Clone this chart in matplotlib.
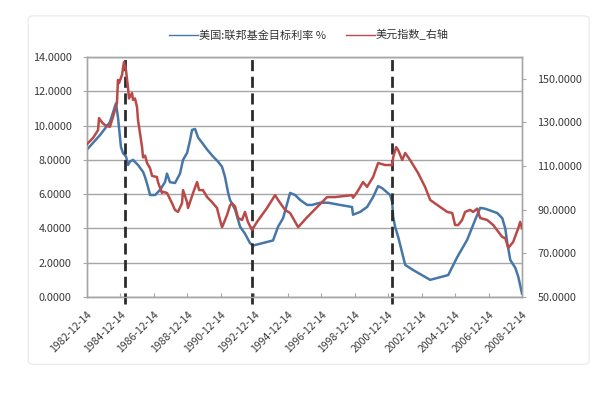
import matplotlib
matplotlib.use("Agg")
import matplotlib.pyplot as plt
from matplotlib.lines import Line2D
from matplotlib.patches import FancyBboxPatch

plt.rcParams["font.family"] = ["Noto Sans CJK SC", "DejaVu Sans"]
plt.rcParams["axes.unicode_minus"] = False

# ── 数据 (十进制年份, 读自原图) ───────────────────────
fed_years = [1982.95, 1983.73, 1984.32, 1984.68, 1984.80, 1984.98, 1985.10, 1985.28,
             1985.40, 1985.52, 1985.70, 1986.00, 1986.30, 1986.42, 1986.60, 1986.72,
             1987.02, 1987.32, 1987.61, 1987.73, 1987.91, 1988.21, 1988.51, 1988.69,
             1988.93, 1989.11, 1989.23, 1989.41, 1989.59, 1989.83, 1990.13, 1990.48,
             1990.78, 1991.02, 1991.20, 1991.38, 1991.50, 1991.80, 1992.10, 1992.39,
             1992.69, 1992.87, 1994.07, 1994.37, 1994.67, 1995.09, 1995.39, 1995.69,
             1996.11, 1996.40, 1996.88, 1997.36, 1998.08, 1998.79, 1998.85, 1999.27,
             1999.69, 2000.05, 2000.35, 2000.59, 2001.07, 2001.19, 2001.25, 2001.37,
             2001.55, 2001.79, 2001.97, 2002.45, 2003.46, 2004.54, 2005.08, 2005.67,
             2006.15, 2006.45, 2006.75, 2007.47, 2007.77, 2007.95, 2008.07, 2008.25,
             2008.55, 2008.73, 2008.95]
fed_rate = [8.6, 9.45, 10.2, 11.3, 10.5, 8.75, 8.4, 8.2,
            7.7, 7.9, 8.0, 7.7, 7.3, 7.0, 6.4, 5.95,
            5.95, 6.25, 6.7, 7.2, 6.7, 6.65, 7.2, 8.0,
            8.4, 9.15, 9.75, 9.8, 9.3, 9.0, 8.6, 8.2,
            7.9, 7.6, 7.0, 6.1, 5.66, 5.1, 4.1, 3.7,
            3.15, 3.0, 3.3, 4.1, 4.6, 6.07, 5.95, 5.66,
            5.37, 5.37, 5.5, 5.5, 5.37, 5.25, 4.8, 4.96,
            5.25, 5.83, 6.47, 6.35, 5.95, 5.54, 4.67, 4.08,
            3.5, 2.57, 1.87, 1.57, 1.0, 1.28, 2.33, 3.33,
            4.5, 5.2, 5.15, 4.9, 4.6, 4.0, 3.15, 2.16,
            1.7, 1.17, 0.2]

usd_years = [1982.95, 1983.31, 1983.61, 1983.67, 1983.85, 1984.03, 1984.32, 1984.50,
             1984.74, 1984.80, 1984.86, 1985.04, 1985.16, 1985.28, 1985.40, 1985.46,
             1985.64, 1985.70, 1985.82, 1985.94, 1986.00, 1986.12, 1986.24, 1986.30,
             1986.42, 1986.54, 1986.72, 1986.84, 1987.13, 1987.19, 1987.43, 1987.49,
             1987.73, 1988.03, 1988.21, 1988.39, 1988.63, 1988.69, 1988.93, 1988.99,
             1989.29, 1989.53, 1989.65, 1989.88, 1990.13, 1990.42, 1990.72, 1990.90,
             1991.02, 1991.08, 1991.32, 1991.50, 1991.62, 1991.80, 1991.98, 1992.22,
             1992.39, 1992.57, 1992.81, 1993.11, 1993.71, 1994.19, 1994.37, 1994.79,
             1995.09, 1995.57, 1996.11, 1996.70, 1997.30, 1997.78, 1998.79, 1998.85,
             1999.09, 1999.45, 1999.69, 2000.05, 2000.35, 2000.77, 2001.19, 2001.25,
             2001.43, 2001.55, 2001.79, 2001.97, 2002.26, 2002.74, 2003.16, 2003.46,
             2003.88, 2004.48, 2004.78, 2004.95, 2005.14, 2005.37, 2005.55, 2005.85,
             2006.03, 2006.27, 2006.33, 2006.45, 2006.87, 2007.23, 2007.77, 2007.95,
             2008.13, 2008.42, 2008.73, 2008.84, 2008.95]
usd_index = [120.1, 122.9, 126.5, 132.0, 130.0, 128.8, 128.0, 132.5,
             138.9, 149.5, 148.0, 151.7, 157.7, 154.0, 146.0, 141.0,
             143.5, 140.3, 141.0, 137.0, 131.0, 125.0, 118.7, 114.0,
             114.8, 111.4, 109.0, 105.5, 105.0, 102.7, 97.7, 98.2,
             97.7, 93.0, 89.9, 89.0, 93.0, 99.0, 93.5, 90.8,
             97.7, 102.7, 99.0, 99.0, 95.8, 93.5, 90.8, 85.3,
             82.0, 83.0, 87.6, 92.0, 93.0, 91.5, 86.2, 85.3,
             89.0, 84.4, 80.7, 84.4, 90.8, 96.7, 94.5, 89.9,
             88.5, 82.0, 86.6, 91.2, 95.8, 95.8, 96.7, 95.5,
             98.0, 102.7, 100.5, 105.0, 111.4, 110.5, 110.5, 114.0,
             118.7, 117.3, 112.8, 116.0, 112.8, 106.8, 100.4, 94.5,
             92.2, 89.0, 88.5, 83.0, 83.0, 85.3, 89.0, 89.9,
             89.0, 90.5, 89.0, 86.2, 85.3, 83.0, 77.5, 77.0,
             72.5, 75.2, 81.6, 84.4, 81.6]

tick_years = [1982.95 + 2 * i for i in range(14)]
tick_labels = [f"{1982 + 2 * i}-12-14" for i in range(14)]
turn_years = [1985.22, 1992.82, 2001.19]

BLUE = "#4677a8"
RED = "#b94a48"
GRID = "#a6a6a6"

fig = plt.figure(figsize=(6.0, 3.96), dpi=100, facecolor="white")
ax = fig.add_axes([0.145, 0.25, 0.725, 0.606])
ax2 = ax.twinx()

# 外框 (很淡)
fig.patches.append(FancyBboxPatch((0.047, 0.08), 0.935, 0.88,
                                  boxstyle="round,pad=0,rounding_size=0.01",
                                  transform=fig.transFigure, facecolor="none",
                                  edgecolor="#ececec", linewidth=1.0, zorder=0))

ax.plot(fed_years, fed_rate, color=BLUE, lw=1.8, zorder=3)
ax2.plot(usd_years, usd_index, color=RED, lw=1.8, zorder=3)

ax.set_xlim(1982.95, 2008.95)
ax.set_ylim(0, 14)
ax2.set_ylim(50, 160)
ax.set_yticks(range(0, 15, 2))
ax.set_yticklabels([f"{v:.4f}" for v in range(0, 15, 2)])
ax2.set_yticks(range(50, 151, 20))
ax2.set_yticklabels([f"{v:.4f}" for v in range(50, 151, 20)])
ax.set_xticks(tick_years)
ax.set_xticklabels(tick_labels, rotation=45, ha="right", rotation_mode="anchor")

ax.grid(axis="y", color=GRID, lw=1.0, zorder=0)
for a in (ax, ax2):
    for s in a.spines.values():
        s.set_color(GRID)
        s.set_linewidth(1.0)
    a.tick_params(labelsize=7.8, colors="#3a3a3a", length=3, color=GRID, pad=8)
ax.tick_params(axis="x", direction="in", pad=9, labelsize=7.5)

for yr in turn_years:
    ax.axvline(yr, ymin=-0.03, ymax=1.0, color="#2b2b2b", lw=2.0,
               dashes=(4, 2), clip_on=False, zorder=5)

handles = [Line2D([], [], color=BLUE, lw=1.0), Line2D([], [], color=RED, lw=1.0)]
fig.legend(handles=handles, labels=["美国:联邦基金目标利率 %", "美元指数_右轴"],
           loc="center", bbox_to_anchor=(0.515, 0.912), ncol=2,
           frameon=False, fontsize=8, handlelength=2.6, columnspacing=1.8,
           handletextpad=0.1, labelcolor="#333333")

fig.savefig("out.png", dpi=100, facecolor="white")
